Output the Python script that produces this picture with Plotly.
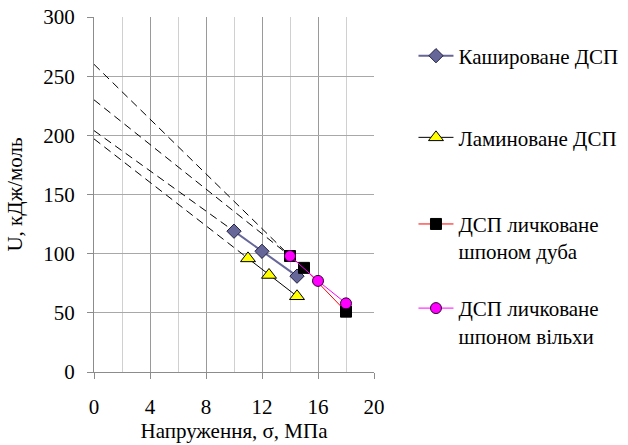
import plotly.graph_objects as go

# ---- data ----
kash_x = [10, 12, 14.5]
kash_y = [119, 102, 81]
lam_x = [11, 12.5, 14.5]
lam_y = [96, 82, 64]
dub_x = [14, 15, 18]
dub_y = [98, 88, 51]
vil_x = [14, 16, 18]
vil_y = [98, 77, 58]

# dashed extrapolation lines: value at sigma = 0, ending at the first point of each series
trend_y0 = [204, 197, 260, 230]
series_first = [(kash_x[0], kash_y[0]), (lam_x[0], lam_y[0]),
                (dub_x[0], dub_y[0]), (vil_x[0], vil_y[0])]

names = ["Кашироване ДСП", "Ламиноване ДСП",
         "ДСП личковане<br>шпоном дуба", "ДСП личковане<br>шпоном вільхи"]

x_ticks = [0, 4, 8, 12, 16, 20]
y_ticks = [0, 50, 100, 150, 200, 250, 300]

FONT = "Liberation Serif"
FS = 21

fig = go.Figure()

for y0, (xe, ye) in zip(trend_y0, series_first):
    fig.add_trace(go.Scatter(x=[0, xe], y=[y0, ye], mode="lines",
                             line=dict(color="black", width=1, dash="8px,5px"),
                             showlegend=False, hoverinfo="skip"))

fig.add_trace(go.Scatter(x=kash_x, y=kash_y, name=names[0], mode="lines+markers",
                         line=dict(color="#666699", width=2),
                         marker=dict(symbol="diamond", size=11, color="#666699",
                                     line=dict(color="#222244", width=1)),
                         legend="legend"))
fig.add_trace(go.Scatter(x=lam_x, y=lam_y, name=names[1], mode="lines+markers",
                         line=dict(color="black", width=1),
                         marker=dict(symbol="triangle-up", size=13, color="#FFFF00",
                                     line=dict(color="black", width=1)),
                         legend="legend2"))
fig.add_trace(go.Scatter(x=dub_x, y=dub_y, name=names[2], mode="lines+markers",
                         line=dict(color="#FF0000", width=1),
                         marker=dict(symbol="square", size=11, color="black",
                                     line=dict(color="black", width=1)),
                         legend="legend3"))
fig.add_trace(go.Scatter(x=vil_x, y=vil_y, name=names[3], mode="lines+markers",
                         line=dict(color="#FF00FF", width=1),
                         marker=dict(symbol="circle", size=11, color="#FF00FF",
                                     line=dict(color="#330033", width=1)),
                         legend="legend4"))

lf = dict(family=FONT, size=FS, color="black")
common_leg = dict(font=lf, bgcolor="rgba(0,0,0,0)", xanchor="left", valign="top",
                  itemwidth=35)
LX = 1.141

fig.update_layout(
    width=628, height=445,
    margin=dict(l=94, r=254, t=17, b=73, autoexpand=False),
    paper_bgcolor="white", plot_bgcolor="white",
    font=dict(family=FONT, size=FS, color="black"),
    legend=dict(x=LX, y=0.890, yanchor="middle", **common_leg),
    legend2=dict(x=LX, y=0.660, yanchor="middle", **common_leg),
    legend3=dict(x=LX, y=0.378, yanchor="middle", **common_leg),
    legend4=dict(x=LX, y=0.141, yanchor="middle", **common_leg),
    xaxis=dict(range=[0, 20], tickvals=x_ticks, ticktext=[str(v) for v in x_ticks],
               showgrid=True, gridcolor="#9a9a9a", gridwidth=1,
               minor=dict(dtick=2, tick0=0, showgrid=True, gridcolor="#d0d0d0", gridwidth=1),
               showline=True, linecolor="#8c8c8c", linewidth=1,
               ticks="outside", ticklen=6, tickcolor="#8c8c8c",
               ticklabelstandoff=10, ticklabeloverflow="allow",
               zeroline=False, automargin=False,
               tickfont=dict(family=FONT, size=FS),
               title=dict(text="Напруження, σ, МПа", font=dict(family=FONT, size=FS), standoff=0)),
    yaxis=dict(range=[0, 300], tickvals=y_ticks, ticktext=[str(v) for v in y_ticks],
               showgrid=True, gridcolor="#a8a8a8", gridwidth=1,
               showline=True, linecolor="#8c8c8c", linewidth=1,
               ticks="outside", ticklen=6, tickcolor="#8c8c8c",
               ticklabelstandoff=8, ticklabeloverflow="allow",
               zeroline=False, automargin=False,
               tickfont=dict(family=FONT, size=FS),
               title=dict(text="U, кДж/моль", font=dict(family=FONT, size=FS), standoff=14)),
)

fig.write_html("out.html",
               config={"displayModeBar": False},
               post_script="document.body.style.margin='0';document.body.style.overflow='hidden';")
